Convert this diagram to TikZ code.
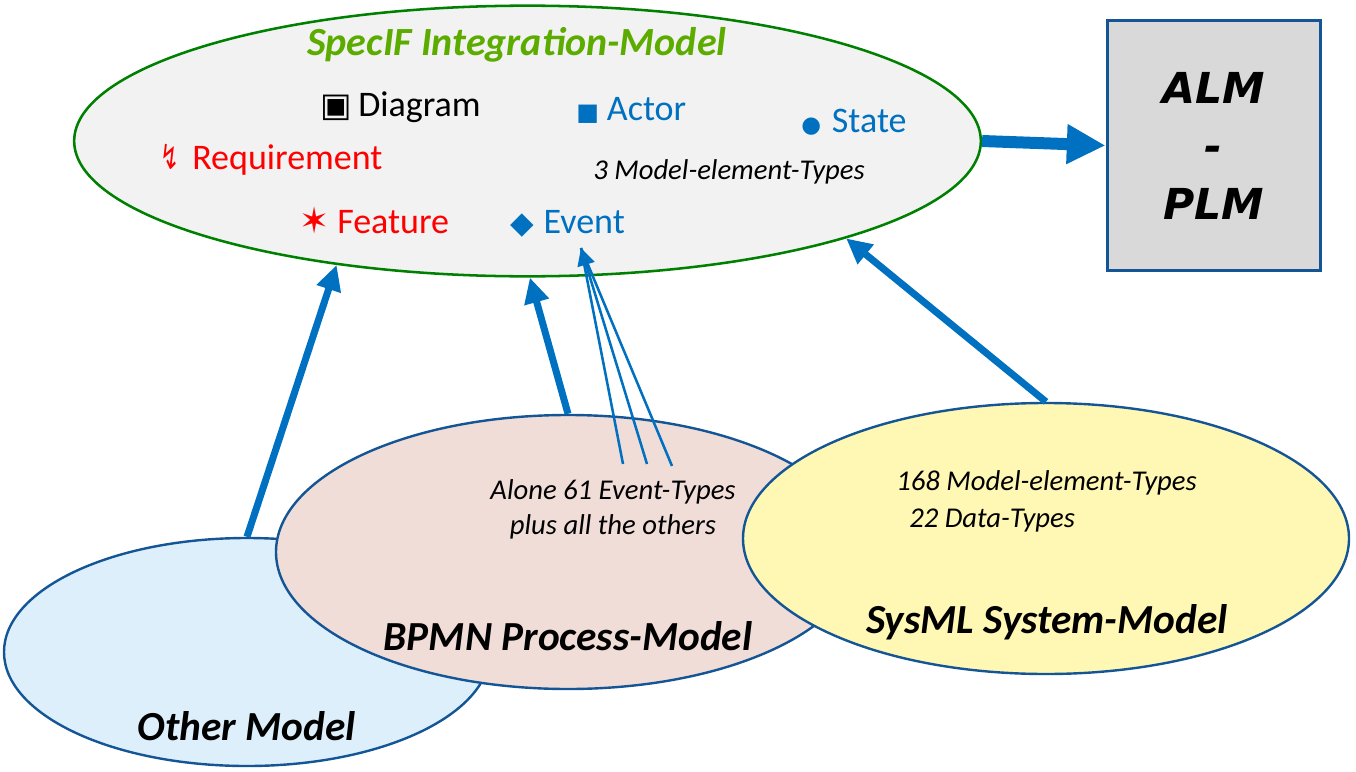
\documentclass[tikz,border=0pt]{standalone}
\usepackage{fontspec}
\usepackage{graphicx}
\setmainfont{Carlito}
\newfontfamily\symf{DejaVu Sans}
\newfontfamily\verd{DejaVu Sans}
\usetikzlibrary{shapes.geometric,arrows.meta}
\definecolor{specgreen}{RGB}{0,128,0}
\definecolor{titlegreen}{RGB}{92,172,0}
\definecolor{arrblue}{RGB}{0,112,192}
\definecolor{edgeblue}{RGB}{20,85,150}
\definecolor{otherfill}{RGB}{222,239,252}
\definecolor{bpmnfill}{RGB}{240,221,216}
\definecolor{sysfill}{RGB}{255,247,180}
\definecolor{specfill}{RGB}{242,242,242}
\definecolor{almfill}{RGB}{217,217,217}
\definecolor{txtred}{RGB}{255,0,0}
\begin{document}
\begin{tikzpicture}[x=0.75pt,y=-0.75pt,
  model/.style={ellipse, draw=edgeblue, line width=1.8pt, inner sep=0pt},
  bigarrow/.style={draw=arrblue, line width=5.25pt, -{Triangle[length=19pt,width=18pt]}},
  thinarrow/.style={draw=arrblue, line width=1.9pt},
  itemtxt/.style={anchor=base west, inner sep=0pt, font=\fontsize{27}{32}\selectfont},
  modelname/.style={anchor=base, inner sep=0pt, font=\fontsize{31}{36}\selectfont\bfseries\itshape},
  notetxt/.style={inner sep=0pt, font=\fontsize{21.5}{26}\selectfont\itshape},
]
\useasboundingbox (0,0) rectangle (1356,771);

% ellipses and box
\node[ellipse, draw=specgreen, fill=specfill, line width=1.9pt, inner sep=0pt,
      minimum width=680pt, minimum height=203pt] (spec) at (527.5,141) {};
\node[draw=edgeblue, fill=almfill, line width=2.25pt, inner sep=0pt,
      minimum width=159.75pt, minimum height=187.5pt, align=center,
      font=\verd\bfseries\itshape\fontsize{32}{43.5}\selectfont] (alm) at (1213.5,145.5) {ALM\\-\\PLM};
\node[model, fill=otherfill, minimum width=364.5pt, minimum height=171pt] (other) at (247,652) {};
\node[model, fill=bpmnfill, minimum width=438pt, minimum height=205.5pt] (bpmn) at (568,552) {};
\node[model, fill=sysfill, minimum width=454.5pt, minimum height=203.25pt] (sysml) at (1046,538.5) {};

% arrows
\draw[draw=arrblue, line width=9pt, -{Triangle[length=29pt,width=28pt]}] (spec.east) -- (alm.west);
\draw[bigarrow] (other.north) -- (spec.213);
\draw[bigarrow] (bpmn.north) -- (spec.271);
\draw[bigarrow] (sysml.north) -- (spec.343.5);

\coordinate (evtip) at (581,248);
\coordinate (e1) at (623,464);
\coordinate (e2) at (647,464);
\coordinate (e3) at (672,466);
\draw[thinarrow] (e1) -- (evtip);
\draw[thinarrow] (e3) -- (evtip);
\draw[thinarrow, -{Triangle[length=13pt,width=13pt]}] (e2) -- (evtip);

% SpecIF content
\node[anchor=base west, inner sep=0pt, text=titlegreen,
      font=\fontsize{30}{36}\selectfont\bfseries\itshape] (title) at (307,55) {SpecIF Integration-Model};
\node[itemtxt, text=black] (diagram) at (320,116) {\makebox[28.5pt][l]{\symf\fontsize{25}{25}\selectfont ▣}Diagram};
\node[itemtxt, text=arrblue] (actor) at (576,120) {\makebox[23pt][l]{\symf\fontsize{18}{18}\selectfont ■}Actor};
\node[itemtxt, text=arrblue] (state) at (801,132) {\makebox[23pt][l]{\symf\fontsize{17}{17}\selectfont ●}State};
\node[itemtxt, text=txtred] (req) at (160,169) {\makebox[24pt][l]{\scalebox{0.65}[1]{\symf\fontsize{26}{26}\selectfont ↯}}Requirement};
\node[itemtxt, text=txtred] (feat) at (299,233) {\makebox[28.5pt][l]{\symf\fontsize{27}{27}\selectfont ✶}Feature};
\node[itemtxt, text=arrblue] (event) at (510,233) {\makebox[25pt][l]{\symf\fontsize{23}{23}\selectfont ◆}Event};
\node[notetxt, anchor=base west] (three) at (593,179) {3 Model-element-Types};

% BPMN content
\node[notetxt, anchor=base] (alone) at (613,499) {Alone 61 Event-Types};
\node[notetxt, anchor=base] (plus) at (613,534) {plus all the others};
\node[modelname] (bpmnname) at (568,650) {BPMN Process-Model};

% Other
\node[modelname] (othername) at (247,740) {Other Model};

% SysML
\node[notetxt, anchor=base west] (s168) at (896,490) {168 Model-element-Types};
\node[notetxt, anchor=base west] (s22) at (909,527) {22 Data-Types};
\node[modelname] (sysname) at (1047,633) {SysML System-Model};
\end{tikzpicture}
\end{document}
